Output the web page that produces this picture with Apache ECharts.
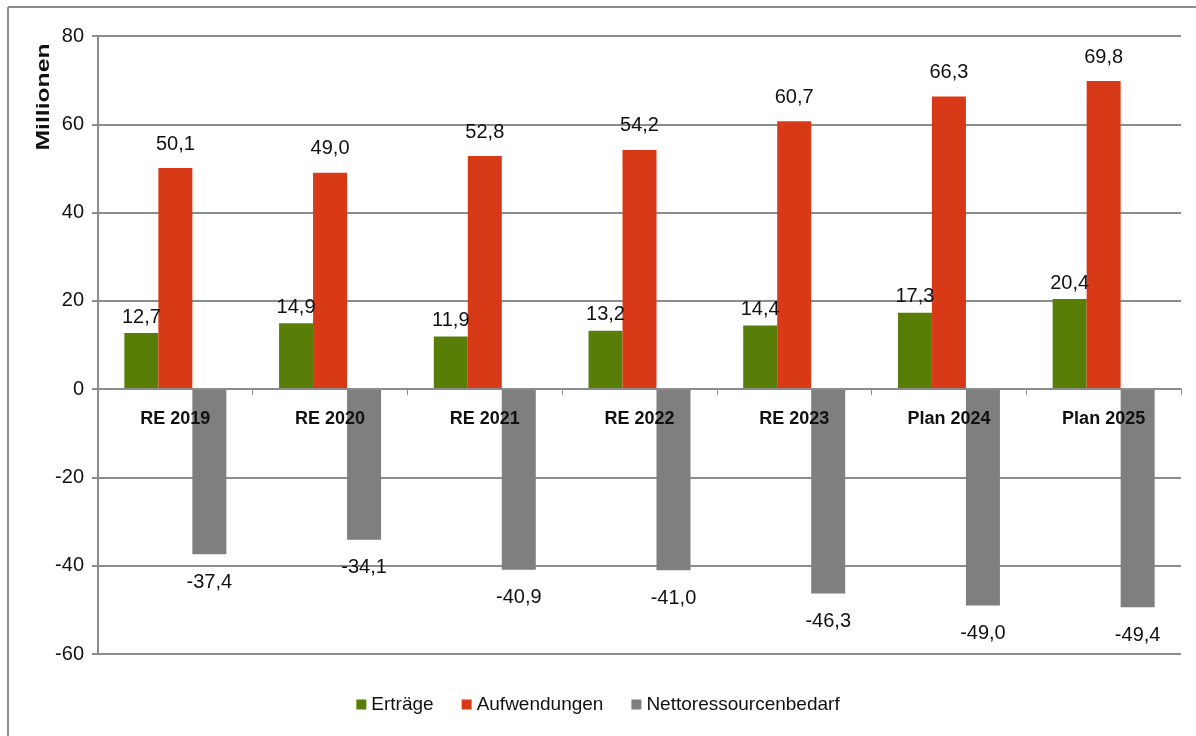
<!DOCTYPE html>
<html><head><meta charset="utf-8">
<script src="https://cdn.jsdelivr.net/npm/echarts@6/dist/echarts.min.js"></script>
<style>html,body{margin:0;padding:0;background:#fff}#c{width:1196px;height:736px}</style>
</head><body><div id="c"></div>
<script>
const categories = ['RE 2019','RE 2020','RE 2021','RE 2022','RE 2023','Plan 2024','Plan 2025'];
const ertraege = [12.7, 14.9, 11.9, 13.2, 14.4, 17.3, 20.4];
const aufwendungen = [50.1, 49.0, 52.8, 54.2, 60.7, 66.3, 69.8];
const netto = [-37.4, -34.1, -40.9, -41.0, -46.3, -49.0, -49.4];
const yTicks = {min: -60, max: 80, interval: 20};

const FONT = '"Liberation Sans", Arial, sans-serif';
const fmt = p => p.value.toFixed(1).replace('.', ',');
const lbl = (pos, dist) => ({show: true, position: pos, distance: dist, formatter: fmt,
  fontFamily: FONT, fontSize: 20, color: '#111'});

const GRID_TOP = 36, GRID_BOTTOM = 82, H = 736;
const plotH = H - GRID_TOP - GRID_BOTTOM;
const zeroOffset = -plotH * (0 - yTicks.min) / (yTicks.max - yTicks.min);

const chart = echarts.init(document.getElementById('c'), null, {renderer: 'canvas'});
chart.setOption({
  animation: false,
  backgroundColor: '#fff',
  grid: {left: 98, right: 15, top: GRID_TOP, bottom: GRID_BOTTOM, containLabel: false},
  legend: {
    bottom: 17, left: 'center', itemWidth: 10, itemHeight: 10, itemGap: 28,
    icon: 'rect',
    textStyle: {fontFamily: FONT, fontSize: 19, color: '#111'},
    data: ['Erträge', 'Aufwendungen', 'Nettoressourcenbedarf']
  },
  xAxis: {
    type: 'category', data: categories, offset: zeroOffset, z: 5,
    axisLine: {show: true, onZero: false, lineStyle: {color: '#8c8c8c', width: 2}},
    axisTick: {show: true, length: 6, interval: 0, lineStyle: {color: '#8c8c8c', width: 1}},
    axisLabel: {fontFamily: FONT, fontSize: 18, fontWeight: 'bold', color: '#111', margin: 21, interval: 0}
  },
  yAxis: {
    type: 'value', min: yTicks.min, max: yTicks.max, interval: yTicks.interval,
    axisLine: {show: true, lineStyle: {color: '#8c8c8c', width: 2}},
    axisTick: {show: true, length: 6, lineStyle: {color: '#8c8c8c', width: 2}},
    axisLabel: {fontFamily: FONT, fontSize: 20, color: '#111', margin: 14},
    splitLine: {show: true, lineStyle: {color: '#8c8c8c', width: 2}}
  },
  series: [
    {name: 'Erträge', type: 'bar', data: ertraege, barWidth: 34, barGap: '0%',
     itemStyle: {color: '#587e08'}, label: lbl('top', 6)},
    {name: 'Aufwendungen', type: 'bar', data: aufwendungen, barWidth: 34, barGap: '0%',
     itemStyle: {color: '#d83a17'}, label: lbl('top', 14)},
    {name: 'Nettoressourcenbedarf', type: 'bar', data: netto, barWidth: 34, barGap: '0%',
     itemStyle: {color: '#7f7f7f'}, label: lbl('bottom', 18)}
  ],
  graphic: [
    {type: 'line', shape: {x1: 8, y1: 7, x2: 1196, y2: 7}, style: {stroke: '#8c8c8c', lineWidth: 2}},
    {type: 'line', shape: {x1: 8, y1: 7, x2: 8, y2: 736}, style: {stroke: '#8c8c8c', lineWidth: 2}},
    {type: 'text', x: 44, y: 97, rotation: Math.PI / 2, scaleX: 1.3,
     style: {text: 'Millionen', font: 'bold 19px "Liberation Sans", Arial, sans-serif', fill: '#111',
             textAlign: 'center', textVerticalAlign: 'middle'}}
  ]
});
</script></body></html>
